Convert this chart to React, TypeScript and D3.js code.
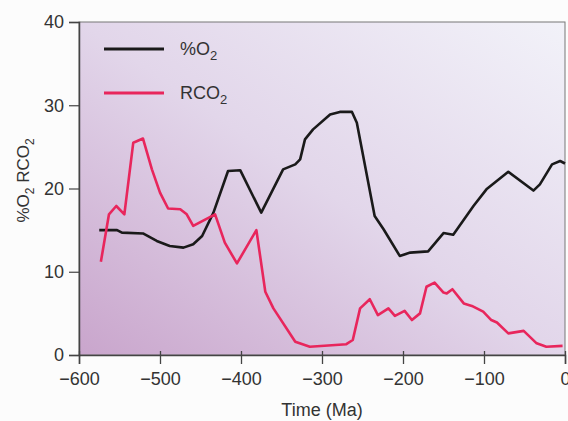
import React, { useEffect, useRef } from 'react';
import * as d3 from 'd3';

// %O2 curve (time in Ma, percent)
const o2Ma = [-575, -553, -547, -521, -504, -488, -471, -459, -448, -434, -416, -401, -375, -348, -333, -327, -321, -311, -290, -278, -263, -257, -235, -224, -204, -191, -169, -150, -138, -113, -97, -70, -39, -31, -16, -6, 0];
const o2Pct = [15.0, 15.0, 14.7, 14.6, 13.7, 13.1, 12.9, 13.3, 14.3, 17.1, 22.1, 22.2, 17.1, 22.3, 22.9, 23.5, 25.9, 27.1, 28.9, 29.2, 29.2, 27.9, 16.7, 15.1, 11.9, 12.3, 12.45, 14.65, 14.45, 17.9, 19.9, 22.0, 19.75, 20.5, 22.9, 23.3, 23.0];

// RCO2 curve
const co2Ma = [-573, -563, -554, -544, -533, -521, -510, -500, -490, -475, -467, -459, -432, -420, -405, -381, -370, -360, -333, -315, -270, -262, -253, -241, -231, -218, -210, -198, -189, -179, -171, -161, -150, -146, -139, -125, -115, -101, -91, -84, -70, -51, -35, -23, -3];
const co2R = [11.2, 16.9, 17.9, 16.9, 25.5, 26.0, 22.3, 19.5, 17.6, 17.5, 16.9, 15.5, 16.9, 13.5, 11.0, 15.0, 7.6, 5.6, 1.6, 1.0, 1.3, 1.8, 5.6, 6.7, 4.8, 5.6, 4.7, 5.3, 4.2, 5.0, 8.2, 8.7, 7.5, 7.4, 7.9, 6.2, 5.9, 5.2, 4.2, 3.9, 2.6, 2.9, 1.4, 1.0, 1.1];

const xTicks = [-600, -500, -400, -300, -200, -100, 0];
const yTicks = [0, 10, 20, 30, 40];

const App = () => {
  const svgRef = useRef<SVGSVGElement>(null);

  useEffect(() => {
    const svg = d3.select(svgRef.current);
    svg.selectAll('*').remove();

    const width = 568;
    const height = 421;
    const margin = { top: 22, right: 3, bottom: 66, left: 79 };
    const font = '"Liberation Sans", Arial, sans-serif';
    const textColor = '#333';

    const x = d3.scaleLinear().domain([-600, 0]).range([margin.left, width - margin.right]);
    const y = d3.scaleLinear().domain([0, 40]).range([height - margin.bottom, margin.top]);

    // background gradient
    const defs = svg.append('defs');
    const grad = defs
      .append('linearGradient')
      .attr('id', 'bg')
      .attr('x1', 0)
      .attr('y1', 1)
      .attr('x2', 1)
      .attr('y2', 0);
    grad.append('stop').attr('offset', '0%').attr('stop-color', '#c9a5cc');
    grad.append('stop').attr('offset', '50%').attr('stop-color', '#e2d6ea');
    grad.append('stop').attr('offset', '100%').attr('stop-color', '#f2f2f9');

    svg
      .append('rect')
      .attr('x', x(-600))
      .attr('y', y(40))
      .attr('width', x(0) - x(-600))
      .attr('height', y(0) - y(40))
      .attr('fill', 'url(#bg)')
      .attr('stroke', '#777')
      .attr('stroke-width', 1);

    // x axis
    const xAxis = svg
      .append('g')
      .attr('transform', `translate(0, ${y(0)})`)
      .call(
        d3
          .axisBottom(x)
          .tickValues(xTicks)
          .tickSize(9)
          .tickPadding(8)
          .tickFormat((d) => (d === 0 ? '0' : '\u2212' + Math.abs(+d)))
      );
    xAxis.select('.domain').attr('stroke', '#444').attr('stroke-width', 1.5);
    xAxis.selectAll('line').attr('stroke', '#444').attr('stroke-width', 1.3).attr('y1', -4);
    xAxis
      .selectAll('text')
      .attr('fill', textColor)
      .style('font-family', font)
      .style('font-size', '18px');

    // y axis
    const yAxis = svg
      .append('g')
      .attr('transform', `translate(${x(-600)}, 0)`)
      .call(d3.axisLeft(y).tickValues(yTicks).tickSize(10).tickPadding(5));
    yAxis.select('.domain').attr('stroke', '#444').attr('stroke-width', 1.5);
    yAxis.selectAll('line').attr('stroke', '#444').attr('stroke-width', 1.2);
    yAxis
      .selectAll('text')
      .attr('fill', textColor)
      .style('font-family', font)
      .style('font-size', '18px');

    // lines
    const lineGen = d3
      .line<[number, number]>()
      .x((d) => x(d[0]))
      .y((d) => y(d[1]));

    const o2Data = o2Ma.map((t, i) => [t, o2Pct[i]] as [number, number]);
    const co2Data = co2Ma.map((t, i) => [t, co2R[i]] as [number, number]);

    svg
      .append('path')
      .attr('d', lineGen(o2Data))
      .attr('fill', 'none')
      .attr('stroke', '#1a1a1a')
      .attr('stroke-width', 2.6)
      .attr('stroke-linejoin', 'round');

    svg
      .append('path')
      .attr('d', lineGen(co2Data))
      .attr('fill', 'none')
      .attr('stroke', '#e8265c')
      .attr('stroke-width', 2.6)
      .attr('stroke-linejoin', 'round');

    // legend
    const legend = [
      { label: '%O', color: '#1a1a1a', y: 49 },
      { label: 'RCO', color: '#e8265c', y: 93 },
    ];
    legend.forEach((l) => {
      svg
        .append('line')
        .attr('x1', 104)
        .attr('x2', 164)
        .attr('y1', l.y)
        .attr('y2', l.y)
        .attr('stroke', l.color)
        .attr('stroke-width', 3);
      const t = svg
        .append('text')
        .attr('x', 180)
        .attr('y', l.y + 6)
        .attr('fill', textColor)
        .style('font-family', font)
        .style('font-size', '18px');
      t.append('tspan').text(l.label);
      t.append('tspan').attr('dy', 5).style('font-size', '13px').text('2');
    });

    // axis titles
    svg
      .append('text')
      .attr('x', (x(-600) + x(0)) / 2)
      .attr('y', 416)
      .attr('text-anchor', 'middle')
      .attr('fill', textColor)
      .style('font-family', font)
      .style('font-size', '18px')
      .text('Time (Ma)');

    const yt = svg
      .append('text')
      .attr('transform', `translate(29, ${(y(0) + y(40)) / 2 - 8}) rotate(-90)`)
      .attr('text-anchor', 'middle')
      .attr('fill', textColor)
      .style('font-family', font)
      .style('font-size', '17px');
    yt.append('tspan').text('%O');
    yt.append('tspan').attr('dy', 5).style('font-size', '12px').text('2');
    yt.append('tspan').attr('dy', -5).text(' RCO');
    yt.append('tspan').attr('dy', 5).style('font-size', '12px').text('2');
  }, []);

  return (
    <svg
      ref={svgRef}
      width={568}
      height={421}
      style={{ position: 'absolute', left: 0, top: 0, background: '#fcfcfc' }}
    />
  );
};

export default App;
